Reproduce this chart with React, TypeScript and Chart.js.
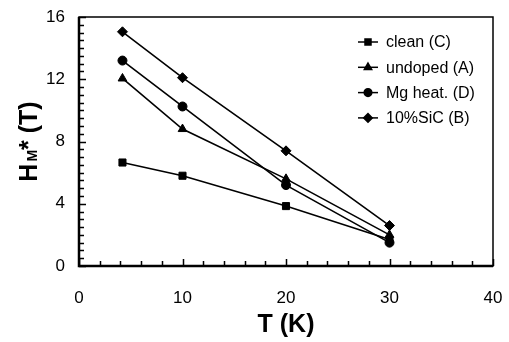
import { useEffect, useRef } from 'react';
import { Chart, registerables } from 'chart.js';
import { drawPoint } from 'chart.js/helpers';

Chart.register(...registerables);

const FONT = '"Liberation Sans", Arial, Helvetica, sans-serif';

const temperatures = [4.2, 10, 20, 30];
const seriesLabels = ['clean (C)', 'undoped (A)', 'Mg heat. (D)', '10%SiC (B)'];
const cleanC = [6.65, 5.8, 3.85, 1.7];
const undopedA = [12.05, 8.8, 5.6, 2.0];
const mgHeatD = [13.2, 10.25, 5.2, 1.5];
const sic10B = [15.05, 12.1, 7.4, 2.6];
const xTitle = 'T (K)';
const yTitleMain = 'H';
const yTitleSub = 'M';
const yTitleRest = '* (T)';

const seriesValues = [cleanC, undopedA, mgHeatD, sic10B];
const pointStyles = ['rect', 'triangle', 'circle', 'rectRot'];
const pointRadii = [5, 5, 4.5, 5];

const frameAndTicks = {
  id: 'frameAndTicks',
  afterDatasetsDraw(chart: any) {
    const { ctx, chartArea, scales } = chart;
    const { left, right, top, bottom } = chartArea;
    const xs = scales.x;
    const ys = scales.y;
    ctx.save();
    ctx.strokeStyle = '#000';
    ctx.lineWidth = 1.5;
    ctx.beginPath();
    for (let v = 0; v <= 40; v += 2) {
      const px = Math.round(xs.getPixelForValue(v)) + 0.5;
      const len = v % 10 === 0 ? 7 : 5;
      ctx.moveTo(px, bottom);
      ctx.lineTo(px, bottom - len);
    }
    for (let i = 0; i <= 32; i++) {
      const v = i * 0.5;
      const py = Math.round(ys.getPixelForValue(v)) + 0.5;
      const len = v % 4 === 0 ? 7 : 5;
      ctx.moveTo(left, py);
      ctx.lineTo(left + len, py);
    }
    ctx.stroke();
    ctx.lineWidth = 1.5;
    ctx.strokeRect(left, top, right - left, bottom - top);
    ctx.lineWidth = 2.5;
    ctx.beginPath();
    ctx.moveTo(left, top);
    ctx.lineTo(left, bottom);
    ctx.lineTo(right, bottom);
    ctx.stroke();
    ctx.restore();
  },
};

const lineLegend = {
  id: 'lineLegend',
  afterDatasetsDraw(chart: any) {
    const { ctx, chartArea } = chart;
    const x0 = chartArea.right - 135;
    const y0 = chartArea.top + 25;
    ctx.save();
    ctx.font = `16px ${FONT}`;
    ctx.textBaseline = 'middle';
    ctx.fillStyle = '#000';
    ctx.strokeStyle = '#000';
    chart.data.datasets.forEach((ds: any, i: number) => {
      const y = y0 + i * 25.3;
      ctx.lineWidth = 1.5;
      ctx.beginPath();
      ctx.moveTo(x0, y);
      ctx.lineTo(x0 + 20, y);
      ctx.stroke();
      drawPoint(ctx, { pointStyle: ds.pointStyle, radius: ds.pointRadius * 0.85, rotation: 0, borderWidth: 1 }, x0 + 10, y);
      ctx.fillText(ds.label, x0 + 28, y + 1);
    });
    ctx.restore();
  },
};

const yTitlePlugin = {
  id: 'yTitlePlugin',
  afterDraw(chart: any) {
    const { ctx, chartArea } = chart;
    const cy = (chartArea.top + chartArea.bottom) / 2;
    ctx.save();
    ctx.translate(37, cy);
    ctx.rotate(-Math.PI / 2);
    ctx.fillStyle = '#000';
    ctx.textBaseline = 'alphabetic';
    ctx.textAlign = 'left';
    const big = `bold 25px ${FONT}`;
    const small = `bold 14px ${FONT}`;
    ctx.font = big;
    const wH = ctx.measureText(yTitleMain).width;
    const wR = ctx.measureText(yTitleRest).width;
    ctx.font = small;
    const wM = ctx.measureText(yTitleSub).width;
    const total = wH + 2 + wM + wR;
    let x = -total / 2;
    ctx.font = big;
    ctx.fillText(yTitleMain, x, 0);
    x += wH + 2;
    ctx.font = small;
    ctx.fillText(yTitleSub, x, 0);
    x += wM;
    ctx.font = big;
    ctx.fillText(yTitleRest, x, 0);
    ctx.restore();
  },
};

export default function App() {
  const canvasRef = useRef<HTMLCanvasElement | null>(null);

  useEffect(() => {
    const canvas = canvasRef.current;
    if (!canvas) return;
    const chart = new Chart(canvas, {
      type: 'line',
      data: {
        datasets: seriesValues.map((vals, i) => ({
          label: seriesLabels[i],
          data: temperatures.map((t, j) => ({ x: t, y: vals[j] })),
          borderColor: '#000',
          backgroundColor: '#000',
          borderWidth: 1.6,
          pointStyle: pointStyles[i] as any,
          pointRadius: pointRadii[i],
          pointBackgroundColor: '#000',
          pointBorderColor: '#000',
          pointBorderWidth: 1,
          tension: 0,
          fill: false,
        })),
      },
      options: {
        animation: false,
        responsive: false,
        devicePixelRatio: 1,
        layout: { padding: { top: 17, right: 16, left: 0, bottom: 0 } },
        plugins: {
          legend: { display: false },
          tooltip: { enabled: false },
        },
        scales: {
          x: {
            type: 'linear',
            min: 0,
            max: 40,
            ticks: { stepSize: 10, color: '#000', font: { family: FONT, size: 17 }, padding: 22 },
            grid: { display: false, drawTicks: false },
            border: { display: false },
            title: {
              display: true,
              text: xTitle,
              color: '#000',
              font: { family: FONT, size: 25, weight: 'bold' },
              padding: { top: 0, bottom: 2 },
            },
            afterFit(scale: any) {
              scale.height = 76;
              scale.paddingLeft = 0;
              scale.paddingRight = 0;
            },
          },
          y: {
            type: 'linear',
            min: 0,
            max: 16,
            ticks: { stepSize: 4, color: '#000', font: { family: FONT, size: 17 }, padding: 14 },
            grid: { display: false, drawTicks: false },
            border: { display: false },
            afterFit(scale: any) {
              scale.width = 79;
              scale.paddingTop = 0;
              scale.paddingBottom = 0;
            },
          },
        },
      },
      plugins: [frameAndTicks, lineLegend, yTitlePlugin],
    } as any);
    return () => chart.destroy();
  }, []);

  return (
    <div style={{ position: 'absolute', left: 0, top: 0, width: 509, height: 342, background: '#fff' }}>
      <canvas ref={canvasRef} width={509} height={342} style={{ display: 'block', width: 509, height: 342 }} />
    </div>
  );
}
